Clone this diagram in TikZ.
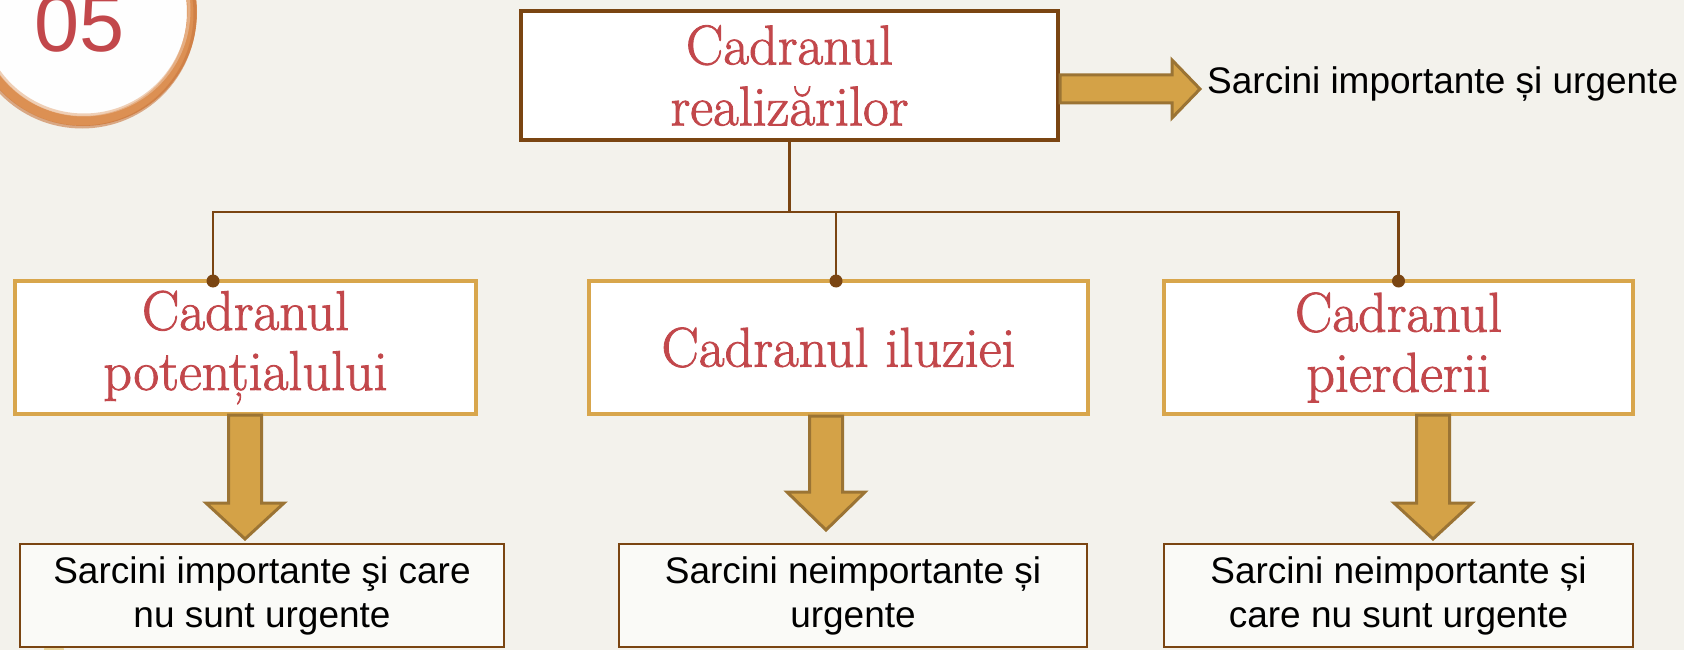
\documentclass[tikz,border=0pt]{standalone}
\usepackage{fontspec}
\setmainfont{Latin Modern Roman}
\newfontfamily\arialf{Liberation Sans}
\newfontfamily\redserif[FakeBold=1.5]{Latin Modern Roman}
\usetikzlibrary{calc}
\definecolor{bgc}{HTML}{F3F2EC}
\definecolor{redt}{HTML}{C2474B}
\definecolor{brownl}{HTML}{7A4512}
\definecolor{goldb}{HTML}{D8A64C}
\definecolor{arrowf}{HTML}{D4A247}
\definecolor{arrowd}{HTML}{9B7434}
\definecolor{ringc}{HTML}{DC9053}
\definecolor{ringd}{HTML}{C8773F}
\definecolor{leafc}{HTML}{E8D49B}
\newcommand\dnarrow[4]{\filldraw[blockarrow] (#1-16.5,#2) -- (#1-16.5,#3) -- (#1-39,#3) -- (#1,#4) -- (#1+39,#3) -- (#1+16.5,#3) -- (#1+16.5,#2) -- cycle;}
\begin{document}
\begin{tikzpicture}[x=1pt,y=-1pt,
 topbox/.style={draw=brownl, line width=4pt, fill=white, inner sep=0pt, minimum width=537pt, minimum height=129pt, align=center, text=redt, font=\redserif\fontsize{56}{61}\selectfont},
 midbox/.style={draw=goldb, line width=4pt, fill=white, inner sep=0pt, minimum height=133pt, align=center, text=redt, font=\redserif\fontsize{56}{60}\selectfont},
 lowbox/.style={draw=brownl, line width=2pt, fill=bgc!40!white, inner sep=0pt, minimum height=103pt, align=center, font=\arialf\fontsize{37}{44}\selectfont},
 conn/.style={draw=brownl, line width=2.5pt},
 blockarrow/.style={fill=arrowf, draw=arrowd, line width=3pt, line join=miter},
 dotc/.style={fill=brownl},
]
\useasboundingbox (0,0) rectangle (1684,650);
\fill[bgc] (0,0) rectangle (1684,650);
% ring "05"
\fill[white!96!bgc] (83,12) circle[radius=109pt];
\draw[ringc, line width=10pt] (83,12) circle[radius=109pt];
\draw[ringd, line width=3pt, opacity=.6] (82,14) circle[radius=113pt];
\draw[ringc!60!white, line width=3pt, opacity=.7] (84,10) circle[radius=105pt];
\node[anchor=base, inner sep=0pt, text=redt, font=\arialf\fontsize{81}{81}\selectfont] (num) at (80,52) {05};
% leaf
\fill[leafc] (44,650) .. controls (46,636) and (52,632) .. (56,636) .. controls (62,642) and (64,648) .. (64,650) -- cycle;
% boxes
\node[topbox] (T) at (789.5,75.5) {Cadranul\\realizărilor};
\node[midbox, minimum width=461pt] (L) at (245.5,347.5) {Cadranul\\potențialului};
\node[midbox, minimum width=499pt] (M) at (838.5,347.5) {Cadranul iluziei};
\node[midbox, minimum width=469pt] (R) at (1398.5,347.5) {Cadranul\\pierderii};
\node[lowbox, minimum width=484pt] (LL) at (262,595.5) {Sarcini importante şi care\\nu sunt urgente};
\node[lowbox, minimum width=468pt] (ML) at (853,595.5) {Sarcini neimportante și\\urgente};
\node[lowbox, minimum width=469pt] (RL) at (1398.5,595.5) {Sarcini neimportante și\\care nu sunt urgente};
\node[anchor=base west, inner sep=0pt, font=\arialf\fontsize{37}{44}\selectfont] (TR) at (1207,94) {Sarcini importante și urgente};
% connectors
\coordinate (J) at (789.5,212);
\coordinate (Ld) at ([xshift=-32.5pt,yshift=-2pt]L.north);
\coordinate (Md) at ([xshift=-2.5pt,yshift=-2pt]M.north);
\coordinate (Rd) at ([yshift=-2pt]R.north);
\draw[conn] (T.south) -- (J);
\draw[conn] (J) -| (Ld);
\draw[conn] (J) -| (Md);
\draw[conn] (J) -| (Rd);
\fill[dotc] (Ld) circle[radius=6.5pt];
\fill[dotc] (Md) circle[radius=6.5pt];
\fill[dotc] (Rd) circle[radius=6.5pt];
% right arrow
\filldraw[blockarrow] (T.east |- 0,75) -- (1172,75) -- (1172,60) -- (1200,89) -- (1172,118) -- (1172,103) -- (T.east |- 0,103) -- cycle;
% down arrows
\dnarrow{245}{415}{503}{539}
\dnarrow{826}{416}{492}{530}
\dnarrow{1433}{415}{503}{539}
\end{tikzpicture}
\end{document}
